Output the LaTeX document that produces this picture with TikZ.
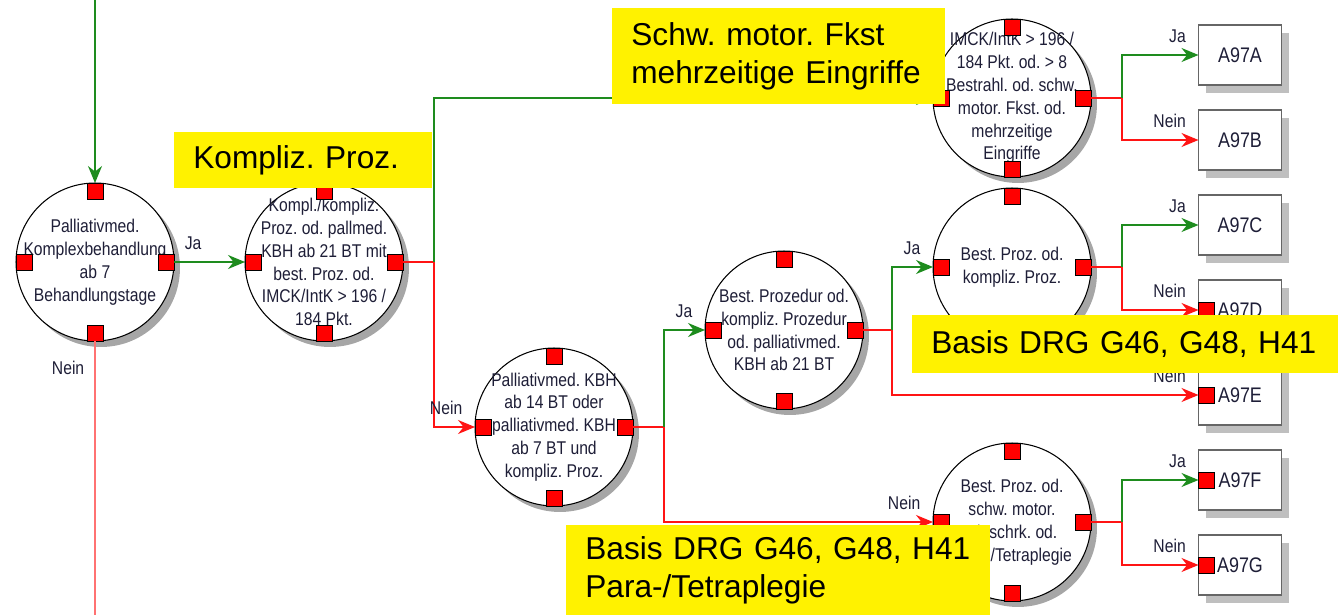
\documentclass[tikz,border=0pt]{standalone}
\usepackage{fontspec}
\setmainfont{Liberation Sans}
\newfontfamily\narrowfont[FakeStretch=0.85]{Liberation Sans}
\usetikzlibrary{arrows.meta,shadows}
\definecolor{jagreen}{RGB}{30,140,30}
\definecolor{neinred}{RGB}{255,20,20}
\definecolor{txtblue}{RGB}{30,30,55}

\begin{document}
\frenchspacing
\begin{tikzpicture}[x=0.02cm, y=-0.02cm,
            frage/.style={circle, draw, line width=0.6pt, fill=white, minimum size=3.16cm, inner sep=-0.6cm, outer sep=0pt, align=center, text=txtblue, font=\narrowfont\fontsize{10.5}{13}\selectfont, drop shadow={shadow xshift=.12cm, shadow yshift=-.12cm, fill=black!35, opacity=1}},
            port/.style={draw, line width=0.5pt, fill=red, minimum size=0.32cm, inner sep=0pt, outer sep=0pt},
            drg/.style={draw=black!60, line width=1.1pt, fill=white, minimum width=1.66cm, minimum height=1.2cm, inner sep=0pt, outer sep=0pt, text=txtblue, font=\narrowfont\fontsize{12}{14}\selectfont, drop shadow={shadow xshift=.15cm, shadow yshift=-.16cm, fill=black!25, opacity=1}},
            stem/.style={draw=neinred, line width=0.9pt},
            ja/.style={draw=jagreen, line width=0.9pt, -{Stealth[length=0.34cm, width=0.28cm]}},
            nein/.style={stem, -{Stealth[length=0.34cm, width=0.28cm]}},
            lbltxt/.style={font=\narrowfont\fontsize{10.5}{13}\selectfont, text=txtblue, inner sep=0pt},
            lbl/.style={lbltxt, pos=1, anchor=base east, xshift=-0.24cm, yshift=0.26cm},
            note/.style={fill=yellow, anchor=north west, align=left, inner xsep=0.38cm, inner ysep=0pt, font=\fontsize{18}{21.5}\selectfont}
        ]
            \useasboundingbox (0,0) rectangle (1338,615);

            \node[frage] (c1) at (95,262) {Palliativmed.\\Komplexbehandlung\\ab 7\\Behandlungstage};
            \node[frage] (c2) at (324,262) {Kompl./kompliz.\\Proz. od. pallmed.\\KBH ab 21 BT mit\\best. Proz. od.\\IMCK/IntK > 196 /\\184 Pkt.};
            \node[frage] (c3) at (1012,98) {IMCK/IntK > 196 /\\184 Pkt. od. > 8\\Bestrahl. od. schw.\\motor. Fkst. od.\\mehrzeitige\\Eingriffe};
            \node[frage] (c4) at (554,427) {Palliativmed. KBH\\ab 14 BT oder\\palliativmed. KBH\\ab 7 BT und\\kompliz. Proz.};
            \node[frage] (c5) at (784,330) {Best. Prozedur od.\\kompliz. Prozedur\\od. palliativmed.\\KBH ab 21 BT};
            \node[frage] (c6) at (1012,522) {Best. Proz. od.\\schw. motor.\\Einschrk. od.\\Para-/Tetraplegie};
            \node[frage] (c7) at (1012,267) {Best. Proz. od.\\kompliz. Proz.};

            \foreach \c in {c1,c2,c3,c4,c5,c6,c7}
                \foreach \a in {north,south,east,west}
                    \node[port, anchor=\a] (\c-\a) at (\c.\a) {};

            \node[drg] (bA) at (1240,55) {A97A};
            \node[drg] (bB) at (1240,140) {A97B};
            \node[drg] (bC) at (1240,225) {A97C};
            \node[drg] (bD) at (1240,310) {A97D};
            \node[drg] (bE) at (1240,395) {A97E};
            \node[drg] (bF) at (1240,480) {A97F};
            \node[drg] (bG) at (1240,565) {A97G};

            \foreach \b in {bD,bE,bF,bG}
                \node[port, anchor=west] (\b-port) at (\b.west) {};

            \coordinate (oben) at (95,0);
            \coordinate (unten) at (95,615);
            \coordinate (s2) at (434,262);
            \coordinate (s4) at (664,427);
            \coordinate (s5) at (892,330);
            \coordinate (s3) at (1122,98);
            \coordinate (s7) at (1122,267);
            \coordinate (s6) at (1122,522);

            \draw[ja] (oben) -- (c1-north);
            \draw[ja] (c1-east) -- node[lbltxt, pos=.27, anchor=base, yshift=0.26cm] {Ja} (c2-west);
            \draw[stem, draw=neinred!60] (c1-south) -- node[lbltxt, pos=.1, anchor=east, xshift=-0.2cm] {Nein} (unten);

            \draw[stem] (c2-east) -- (s2);
            \draw[ja] (s2) |- (c3-west);
            \draw[nein] (s2) |- node[lbl] {Nein} (c4-west);

            \draw[stem] (c4-east) -- (s4);
            \draw[ja] (s4) |- node[lbl] {Ja} (c5-west);
            \draw[nein] (s4) |- node[lbl] {Nein} (c6-west);

            \draw[stem] (c5-east) -- (s5);
            \draw[ja] (s5) |- node[lbl] {Ja} (c7-west);
            \draw[nein] (s5) |- node[lbl] {Nein} (bE);

            \draw[stem] (c3-east) -- (s3);
            \draw[ja] (s3) |- node[lbl] {Ja} (bA);
            \draw[nein] (s3) |- node[lbl] {Nein} (bB);

            \draw[stem] (c7-east) -- (s7);
            \draw[ja] (s7) |- node[lbl] {Ja} (bC);
            \draw[nein] (s7) |- node[lbl] {Nein} (bD);

            \draw[stem] (c6-east) -- (s6);
            \draw[ja] (s6) |- node[lbl] {Ja} (bF);
            \draw[nein] (s6) |- node[lbl] {Nein} (bG);

            \node[note, text width=4.4cm, minimum height=1.12cm] (kompliz) at (174,132) {Kompliz. Proz.};
            \node[note, text width=5.9cm, minimum height=1.92cm] (motor) at (612,8) {Schw. motor. Fkst\\mehrzeitige Eingriffe};
            \node[note, text width=7.76cm, minimum height=1.16cm] (basis) at (912,315) {Basis DRG G46, G48, H41};
            \node[note, text width=7.72cm, minimum height=1.8cm] (para) at (566,525) {Basis DRG G46, G48, H41\\Para-/Tetraplegie};
        \end{tikzpicture}
\end{document}
